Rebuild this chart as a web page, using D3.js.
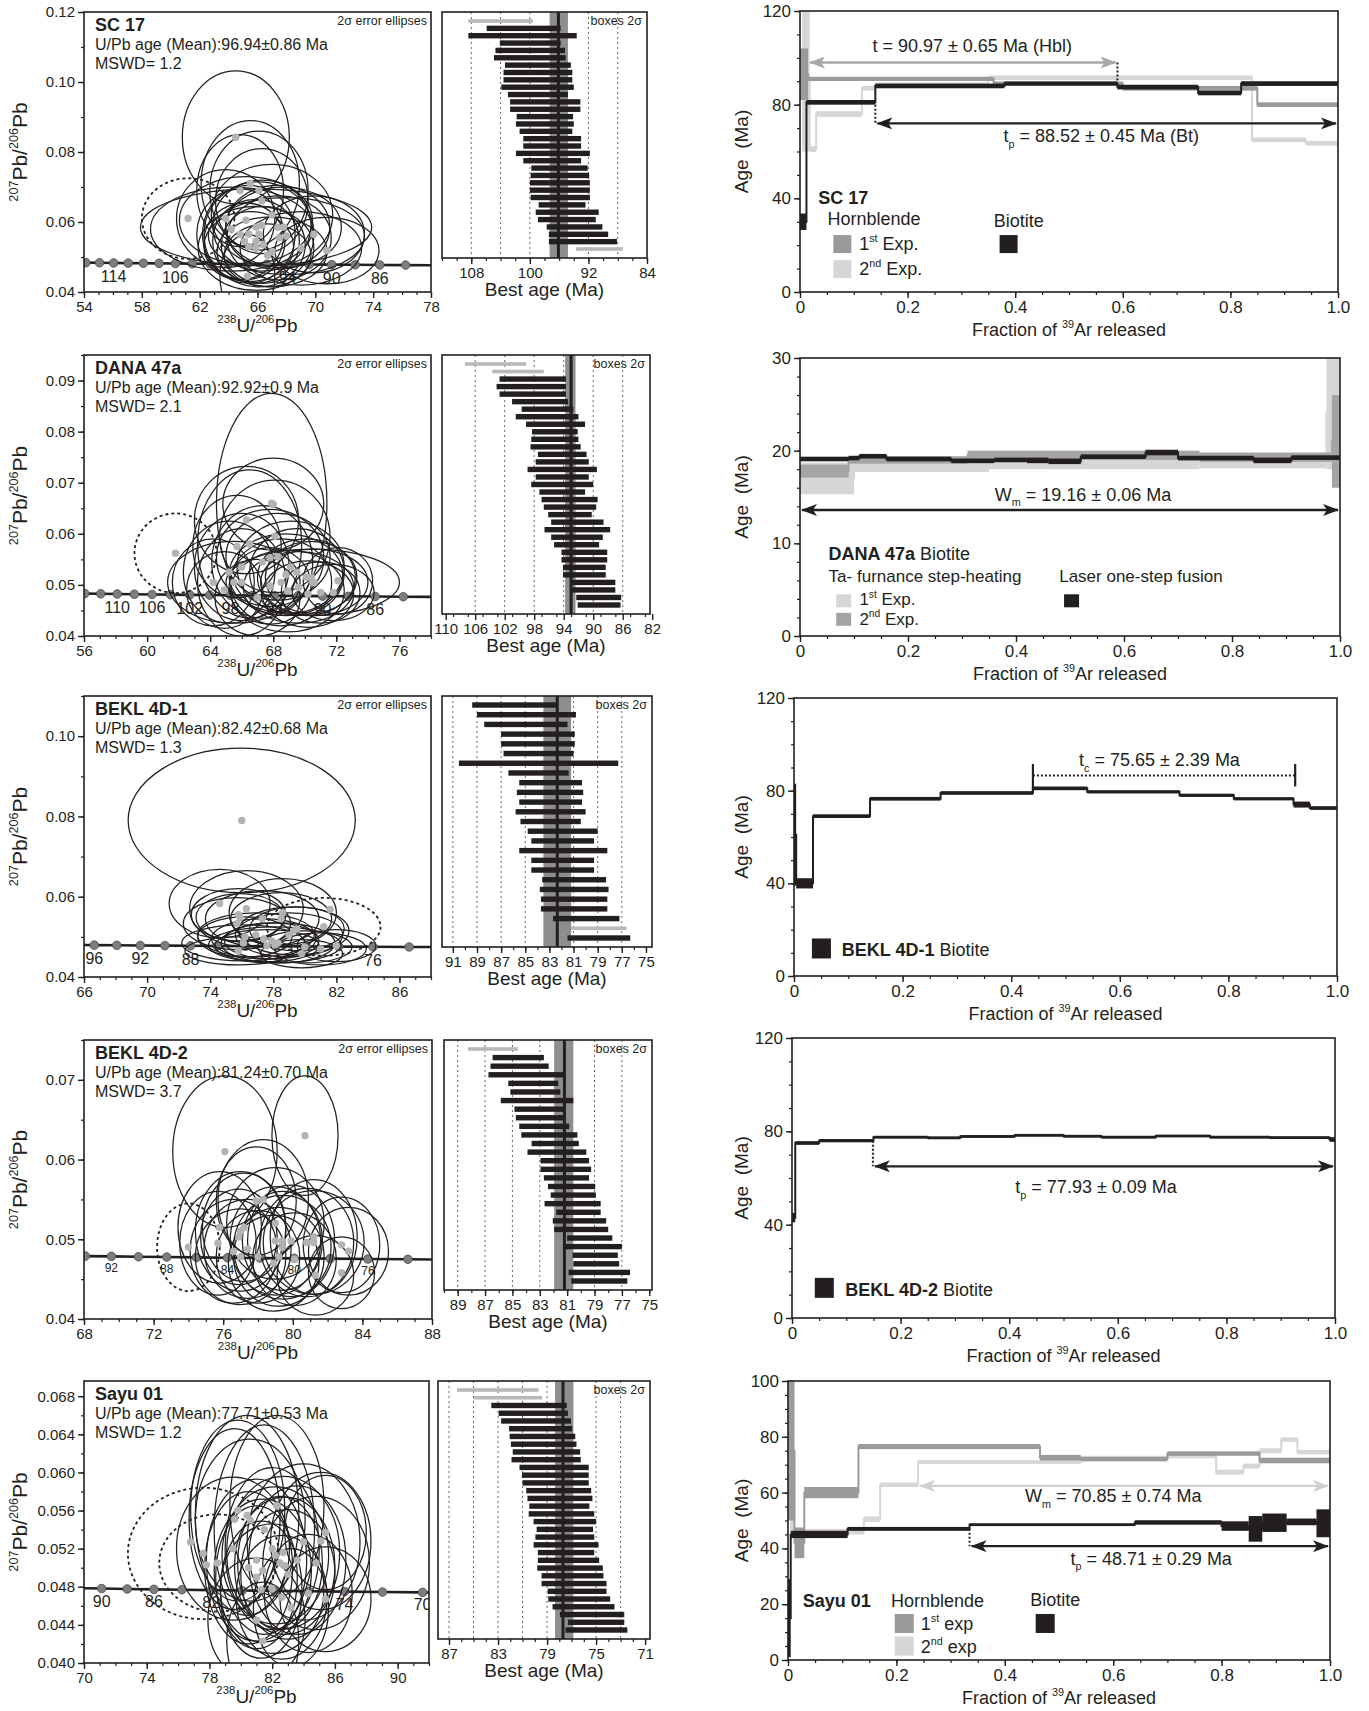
<!DOCTYPE html>
<html>
<head>
<meta charset="utf-8">
<title>U-Pb and Ar-Ar ages</title>
<script src="https://d3js.org/d3.v7.min.js"></script>
<style>
  body { margin: 0; background: #fff; }
  svg text { font-family: "Liberation Sans Narrow", "Liberation Sans", Arial, sans-serif; fill: #231f20; }
  svg text.wide { font-family: "Liberation Sans", Arial, sans-serif; }
</style>
</head>
<body>
<svg id="fig" width="1369" height="1711"></svg>
<script>
// ---------- data: concordia ellipses [cx (238U/206Pb), cy (207Pb/206Pb), rx, ry] ----------
const sc17Ellipses = [
  [64.5,0.0842,3.7,0.019],[65.5,0.0710,3.4,0.018],[64.8,0.0690,3.0,0.016],[66.1,0.0690,3.4,0.017],
  [66.3,0.0660,3.2,0.015],[65.2,0.0605,4.6,0.0125],[66.3,0.0590,3.4,0.013],[65.9,0.0585,8.0,0.011],
  [67.4,0.0585,3.6,0.012],[67.8,0.0585,4.0,0.0115],[69.9,0.0565,3.5,0.011],[64.8,0.0565,3.0,0.013],
  [65.4,0.0565,3.2,0.014],[66.1,0.0565,3.8,0.015],[67.5,0.0555,3.6,0.012],[65.1,0.0545,2.8,0.011],
  [65.9,0.0545,3.0,0.012],[66.4,0.0535,2.9,0.011],[65.4,0.0530,3.1,0.010],[65.9,0.0525,4.0,0.012],
  [67.0,0.0515,3.8,0.010],[69.0,0.0525,4.2,0.0105],[70.8,0.0518,3.6,0.0095],[66.7,0.0505,3.0,0.009],
  [65.3,0.0445,1.9,0.012],[63.8,0.0610,3.4,0.014],[67.0,0.0620,4.2,0.0145],[64.2,0.0580,5.6,0.012],
  [68.0,0.0560,5.4,0.011]
];
const sc17Dashed = [[61.2,0.0610,3.2,0.0115]];
const sc17Markers = [118,116,114,112,110,108,106,104,102,100,98,96,94,92,90,88,86,84];
const sc17MarkerLabels = [114,106,94,90,86];

const danaEllipses = [
  [67.9,0.0660,3.5,0.0215],[66.3,0.0627,3.3,0.0105],[68.0,0.0658,3.2,0.009],[65.7,0.0575,2.8,0.010],
  [68.1,0.0595,3.5,0.011],[64.2,0.0505,2.6,0.0085],[65.2,0.0525,2.9,0.010],[66.0,0.0535,3.0,0.0105],
  [67.3,0.0545,3.2,0.011],[67.8,0.0553,3.4,0.0095],[68.3,0.0555,3.3,0.0085],[69.1,0.0535,3.4,0.009],
  [69.5,0.0525,3.0,0.0085],[68.8,0.0520,3.6,0.008],[70.1,0.0515,3.1,0.0075],[70.6,0.0505,3.4,0.0065],
  [70.4,0.0515,2.9,0.007],[68.5,0.0505,3.2,0.0085],[67.8,0.0498,2.6,0.0075],[69.6,0.0495,3.5,0.007],
  [72.1,0.0508,2.2,0.0065],[71.0,0.0485,2.5,0.006],[70.2,0.0482,2.9,0.0065],[71.8,0.0485,2.6,0.0055],
  [64.9,0.0490,2.4,0.0075],[68.9,0.0488,3.6,0.008],[67.0,0.0475,2.7,0.0075],[66.5,0.0580,3.3,0.0145],
  [70.5,0.0505,5.5,0.0065],[65.5,0.0505,4.2,0.008],[66.0,0.0505,2.8,0.0105]
];
const danaDashed = [[61.8,0.0562,2.6,0.0078]];
const danaMarkers = [114,112,110,108,106,104,102,100,98,96,94,92,90,88,86,84];
const danaMarkerLabels = [110,106,102,98,94,90,86];

const b1Ellipses = [
  [76.0,0.0790,7.2,0.018],[74.6,0.0583,3.2,0.0085],[76.3,0.0570,3.6,0.0095],[78.6,0.0560,3.4,0.0085],
  [75.8,0.0555,3.0,0.0065],[75.9,0.0548,2.8,0.006],[75.7,0.0533,3.4,0.0065],[77.3,0.0545,3.6,0.007],
  [78.5,0.0545,3.2,0.0065],[76.2,0.0500,3.0,0.005],[76.9,0.0505,3.7,0.0055],[77.4,0.0495,3.3,0.005],
  [77.9,0.0490,3.0,0.0045],[78.3,0.0485,3.6,0.005],[79.0,0.0505,3.4,0.0055],[79.5,0.0520,3.0,0.0055],
  [79.3,0.0515,3.5,0.006],[76.1,0.0485,3.9,0.0045],[77.6,0.0478,3.3,0.004],[78.1,0.0480,4.2,0.0045],
  [80.0,0.0475,3.0,0.004],[81.0,0.0470,2.9,0.004],[75.8,0.0465,3.4,0.0035],[79.8,0.0458,2.6,0.0035],
  [82.0,0.0478,2.5,0.004]
];
const b1Dashed = [[81.2,0.0525,3.6,0.0072]];
const b1ExtraDots = [[81.6,0.0568]];
const b1Markers = [96,94,92,90,88,86,84,82,80,78,76,74];
const b1MarkerLabels = [96,92,88,76];

const b2Ellipses = [
  [76.1,0.0610,3.0,0.0095],[80.7,0.0630,1.9,0.0075],[75.8,0.0515,2.4,0.007],[75.7,0.0495,2.2,0.0065],
  [76.6,0.0485,2.5,0.0065],[77.0,0.0510,2.6,0.0075],[77.2,0.0515,2.4,0.0068],[76.9,0.0503,2.2,0.006],
  [77.4,0.0488,2.5,0.0062],[77.9,0.0548,2.3,0.0068],[78.3,0.0550,2.6,0.0075],[79.0,0.0520,2.8,0.007],
  [79.0,0.0498,2.6,0.0068],[79.4,0.0498,2.3,0.0062],[79.4,0.0490,2.8,0.0065],[79.9,0.0498,2.5,0.007],
  [79.2,0.0478,2.6,0.0062],[80.1,0.0475,2.4,0.0058],[80.8,0.0496,2.7,0.0068],[81.2,0.0503,2.5,0.0072],
  [81.2,0.0496,2.9,0.0065],[82.8,0.0493,2.2,0.006],[83.2,0.0485,2.3,0.0055],[82.8,0.0458,1.9,0.0045],
  [81.3,0.0455,2.2,0.005],[78.9,0.0470,2.6,0.006],[78.0,0.0478,2.4,0.0058],[77.0,0.0478,2.6,0.006]
];
const b2Dashed = [[74.0,0.0490,1.8,0.0055]];
const b2Markers = [94,92,90,88,86,84,82,80,78,76,74];
const b2MarkerLabels = [92,88,84,80,76];

const syEllipses = [
  [80.4,0.0555,3.3,0.0105],[82.3,0.0565,3.0,0.0095],[79.8,0.0560,3.0,0.0095],[79.6,0.0551,2.9,0.0095],
  [80.6,0.0550,3.5,0.0085],[81.0,0.0508,3.2,0.0085],[80.5,0.0500,2.8,0.008],[81.4,0.0497,3.1,0.0075],
  [81.0,0.0490,2.6,0.0075],[82.0,0.0520,3.0,0.0085],[82.2,0.0513,3.4,0.0072],[82.7,0.0516,3.6,0.008],
  [82.5,0.0505,2.7,0.007],[82.8,0.0502,3.2,0.0072],[83.6,0.0508,3.1,0.0078],[84.0,0.0527,3.6,0.0082],
  [85.1,0.0528,3.2,0.0072],[85.4,0.0537,2.6,0.006],[83.0,0.0493,3.0,0.0068],[81.3,0.0477,2.6,0.0072],
  [82.0,0.0478,3.3,0.0068],[82.6,0.0469,2.9,0.0065],[83.2,0.0458,2.4,0.0062],[84.3,0.0473,2.8,0.0062],
  [85.4,0.0467,2.9,0.0055],[81.4,0.0423,2.3,0.0062],[79.5,0.0520,3.6,0.0075],[84.8,0.0505,3.4,0.007],
  [81.0,0.0445,3.1,0.0065],[81.5,0.0540,3.2,0.011]
];
const syDashed = [[77.6,0.0515,4.8,0.0069],[78.5,0.0505,3.7,0.0051]];
const syExtraDots = [[76.8,0.0527],[77.8,0.0503]];
const syMarkers = [90,88,86,84,82,80,78,76,74,72,70];
const syMarkerLabels = [90,86,82,74,70];

// ---------- data: best-age boxes [older, younger, excluded(1)] ----------
const sc17Boxes = [
  [108.4,99.6,1],[105.9,95.8,0],[108.4,93.6,0],[104.1,95.8,0],[104.7,95.2,0],[104.9,95.1,0],
  [103.4,94.4,0],[103.6,94.2,0],[103.6,94.2,0],[103.9,94.0,0],[103.0,94.8,0],[102.7,93.1,0],
  [102.7,93.1,0],[101.8,94.1,0],[101.9,94.0,0],[101.4,94.2,0],[100.9,93.0,0],[100.9,93.0,0],
  [101.9,91.8,0],[100.9,93.0,0],[99.8,92.1,0],[99.9,91.9,0],[100.0,91.8,0],[100.0,91.8,0],
  [99.9,91.8,0],[98.8,92.4,0],[99.2,90.6,0],[98.9,91.0,0],[97.7,90.1,0],[97.4,89.3,0],
  [97.4,88.1,0],[93.7,87.3,1]
];
const danaBoxes = [
  [107.4,99.1,1],[103.7,96.7,1],[102.7,93.7,0],[103.1,93.7,0],[102.7,93.7,0],[101.0,93.4,0],
  [99.7,92.7,0],[100.5,92.0,0],[99.1,91.1,0],[98.3,92.1,0],[98.4,92.0,0],[98.5,91.7,0],
  [97.5,90.9,0],[97.8,90.6,0],[98.9,89.5,0],[97.8,90.6,0],[98.4,90.0,0],[97.3,91.1,0],
  [97.0,89.4,0],[96.7,89.6,0],[96.1,90.2,0],[95.7,88.6,0],[96.6,87.7,0],[95.7,88.7,0],
  [95.3,89.2,0],[94.3,88.1,0],[94.3,88.1,0],[94.1,88.3,0],[94.1,88.3,0],[93.1,87.0,0],
  [93.1,87.0,0],[92.3,86.2,0],[92.1,86.3,0]
];
const b1Boxes = [
  [89.4,82.35,0],[89.0,80.8,0],[88.4,81.5,0],[87.0,80.9,0],[87.0,80.9,0],[86.8,81.0,0],
  [90.5,77.3,0],[86.4,81.4,0],[85.5,80.3,0],[85.7,80.2,0],[85.5,80.3,0],[85.8,80.0,0],
  [85.4,80.4,0],[84.8,79.0,0],[84.5,79.3,0],[85.5,78.2,0],[84.5,79.3,0],[84.5,79.3,0],
  [83.6,78.3,0],[83.8,78.1,0],[83.7,78.2,0],[83.7,78.2,0],[82.7,77.2,0],[81.2,76.6,1],
  [81.5,76.3,0]
];
const b2Boxes = [
  [88.25,84.6,1],[86.45,82.7,0],[86.6,82.35,0],[86.75,81.3,0],[85.3,81.65,0],[85.15,81.5,0],
  [85.85,80.55,0],[84.85,81.3,0],[84.75,81.1,0],[84.5,80.85,0],[84.35,80.25,0],[83.6,80.15,0],
  [83.9,79.6,0],[82.95,79.4,0],[82.95,79.25,0],[82.7,79.4,0],[82.4,78.95,0],[82.2,78.9,0],
  [82.65,78.55,0],[81.8,78.55,0],[82.05,78.15,0],[81.95,78.0,0],[81.0,77.7,0],[81.15,77.0,0],
  [80.6,77.3,0],[80.55,77.2,0],[80.9,76.4,0],[80.7,76.6,0]
];
const syBoxes = [
  [86.35,79.7,1],[84.95,79.4,1],[83.55,77.4,0],[82.95,77.3,0],[82.75,77.05,0],[82.1,76.95,0],
  [82.05,76.7,0],[81.95,76.6,0],[81.8,76.3,0],[81.9,76.25,0],[81.25,75.6,0],[81.05,75.6,0],
  [81.0,75.6,0],[80.7,75.4,0],[80.6,75.3,0],[80.45,75.55,0],[80.5,75.15,0],[80.1,75.0,0],
  [79.85,75.25,0],[79.95,75.15,0],[80.1,74.8,0],[79.75,75.15,0],[79.75,74.75,0],[79.8,74.45,0],
  [79.45,74.4,0],[79.45,74.15,0],[78.95,74.15,0],[78.9,73.85,0],[78.55,73.5,0],[77.95,72.7,0],
  [77.3,72.7,0],[77.5,72.45,0]
];
// weighted mean [line, band older, band younger]
const sc17Mean = [96.1, 97.3, 94.8];
const danaMean = [93.0, 93.8, 92.4];
const b1Mean = [82.35, 83.5, 81.2];
const b2Mean = [81.2, 81.95, 80.55];
const syMean = [77.7, 78.35, 76.85];

// ---------- data: Ar-Ar age spectra steps [from, to, age (Ma), half-width (Ma)] ----------
const sc17Bt = [[0,0.012,30,3.5],[0.012,0.14,81,1],[0.14,0.38,88,1],[0.38,0.59,89,0.9],[0.59,0.74,87.5,1],[0.74,0.82,85,1],[0.82,1,89,1]];
const sc17Hbl1 = [[0,0.015,93,11],[0.015,0.36,91,0.9],[0.36,0.6,89,0.9],[0.6,0.85,87,1],[0.85,1,80,1]];
const sc17Hbl2 = [[0.004,0.018,90,30],[0.018,0.03,61,1.2],[0.03,0.115,76,1.2],[0.115,0.14,87,1],[0.14,0.35,88.5,1],[0.35,0.84,91.5,1],[0.84,0.94,65,1],[0.94,1,63.5,1]];

const danaLaser = [[0,0.09,19.1,0.25],[0.09,0.11,19.2,0.25],[0.11,0.16,19.4,0.25],[0.16,0.28,19.1,0.25],[0.28,0.36,18.9,0.25],[0.36,0.42,19.0,0.25],[0.42,0.46,18.95,0.3],[0.46,0.52,18.85,0.3],[0.52,0.64,19.35,0.25],[0.64,0.70,19.8,0.3],[0.70,0.84,19.2,0.25],[0.84,0.91,18.95,0.3],[0.91,1,19.25,0.25]];
const danaExp1 = [[0,0.10,17.0,1.7],[0.10,0.35,18.5,0.8],[0.35,0.74,18.6,0.6],[0.74,0.975,18.8,0.7],[0.975,1,24.0,6.0]];
const danaExp2 = [[0,0.09,17.8,0.7],[0.09,0.31,19.0,0.4],[0.31,0.74,19.5,0.5],[0.74,0.985,19.3,0.5],[0.985,1,21.0,5.0]];

const b1Bt = [[0,0.004,61,22],[0.004,0.035,40,2.2],[0.035,0.14,69,0.8],[0.14,0.27,76.5,0.8],[0.27,0.44,79,0.8],[0.44,0.54,81,0.8],[0.54,0.71,79.5,0.7],[0.71,0.81,78,0.7],[0.81,0.92,76.5,0.7],[0.92,0.95,74,1.3],[0.95,1,72.5,0.8]];

const b2Bt = [[0,0.006,43,2],[0.006,0.05,75,0.8],[0.05,0.15,76,0.7],[0.15,0.25,77.5,0.6],[0.25,0.31,77.2,0.6],[0.31,0.41,77.8,0.6],[0.41,0.5,78.3,0.6],[0.5,0.57,77.9,0.6],[0.57,0.67,77.5,0.6],[0.67,0.77,78.0,0.6],[0.77,0.88,77.5,0.6],[0.88,0.99,77.3,0.6],[0.99,1,76.5,1]];

const syBt = [[0,0.005,15,14],[0.005,0.11,45,1.3],[0.11,0.335,47,0.7],[0.335,0.64,48.5,0.5],[0.64,0.8,49.3,0.8],[0.8,0.85,48,1.7],[0.85,0.875,47,4.6],[0.875,0.92,49.2,3.3],[0.92,0.975,49.5,1.2],[0.975,1,49,5]];
const syHbl1 = [[0,0.012,75,25],[0.012,0.03,42,5.5],[0.03,0.13,60,2],[0.13,0.465,76.5,0.9],[0.465,0.54,72.5,1],[0.54,0.7,72,0.8],[0.7,0.87,74,0.8],[0.87,1,71.5,1]];
const syHbl2 = [[0.004,0.01,73,27],[0.01,0.11,46,1],[0.11,0.14,46,1],[0.14,0.17,50.5,1],[0.17,0.24,62.8,0.8],[0.24,0.54,71,0.7],[0.54,0.7,72.5,0.7],[0.7,0.79,73,0.7],[0.79,0.84,67.3,0.9],[0.84,0.87,69.5,0.9],[0.87,0.91,75,0.9],[0.91,0.94,79,0.8],[0.94,1,74.5,0.8]];

// ---------- tick labels ----------
const sc17XTicks = [54,58,62,66,70,74,78], sc17YTicks = [0.04,0.06,0.08,0.10,0.12];
const danaXTicks = [56,60,64,68,72,76], danaYTicks = [0.04,0.05,0.06,0.07,0.08,0.09];
const b1XTicks = [66,70,74,78,82,86], b1YTicks = [0.04,0.06,0.08,0.10];
const b2XTicks = [68,72,76,80,84,88], b2YTicks = [0.04,0.05,0.06,0.07];
const syXTicks = [70,74,78,82,86,90], syYTicks = [0.040,0.044,0.048,0.052,0.056,0.060,0.064,0.068];
const sc17AgeTicks = [108,100,92,84], sc17AgeGrid = [108,104,100,96,92,88];
const danaAgeTicks = [110,106,102,98,94,90,86,82], danaAgeGrid = [106,102,98,94,90,86];
const b1AgeTicks = [91,89,87,85,83,81,79,77,75], b1AgeGrid = [91,89,87,85,83,81,79,77];
const b2AgeTicks = [89,87,85,83,81,79,77,75], b2AgeGrid = [89,87,85,83,81,79,77];
const syAgeTicks = [87,83,79,75,71], syAgeGrid = [87,85,83,81,79,77,75,73];
const arXTicks = [0,0.2,0.4,0.6,0.8,1.0];
const ar120Ticks = [0,40,80,120], ar30Ticks = [0,10,20,30], ar100Ticks = [0,20,40,60,80,100];

// ---------- drawing ----------
const INK = '#231f20', MID = '#9a9a9a', LIGHT = '#d6d6d6';
const svg = d3.select('#fig');
const defs = svg.append('defs');
let clipN = 0;

const l238 = 1.55125e-10, l235 = 9.8485e-10;
const concX = t => 1 / (Math.exp(l238 * t * 1e6) - 1);
const concY = t => (Math.exp(l235 * t * 1e6) - 1) / (Math.exp(l238 * t * 1e6) - 1) / 137.88;

function marker(id, color) {
  defs.append('marker').attr('id', id).attr('viewBox', '0 0 16 12').attr('refX', 15).attr('refY', 6)
    .attr('markerWidth', 16).attr('markerHeight', 12).attr('markerUnits', 'userSpaceOnUse')
    .attr('orient', 'auto-start-reverse')
    .append('path').attr('d', 'M0,0 L16,6 L0,12 L4,6 Z').attr('fill', color);
}
marker('arrK', INK);
marker('arrG', '#a8a8a8');
marker('arrL', '#d0d0d0');

// text with sub/superscripts: parts = [[string, kind]]
function rich(t, parts, size) {
  let shift = 0;
  parts.forEach(([s, k]) => {
    const target = k === 'sub' ? 0.3 * size : k === 'sup' ? -0.45 * size : 0;
    const ts = t.append('tspan').text(s).attr('dy', target - shift);
    shift = target;
    if (k === 'sub' || k === 'sup') ts.attr('font-size', size * 0.6);
    if (k === 'b') ts.attr('font-weight', 'bold');
  });
  return t;
}

function clip(g, L, T, R, B) {
  const id = 'cp' + (clipN++);
  defs.append('clipPath').attr('id', id).append('rect')
    .attr('x', L).attr('y', T).attr('width', R - L).attr('height', B - T);
  return g.append('g').attr('clip-path', `url(#${id})`);
}

function axis(g, scale, orient, pos, major, minor, fmt, size, cls) {
  const make = orient === 'left' ? d3.axisLeft : d3.axisBottom;
  const tr = orient === 'left' ? `translate(${pos},0)` : `translate(0,${pos})`;
  if (minor) {
    const m = g.append('g').attr('transform', tr).attr('color', INK)
      .call(make(scale).tickValues(minor).tickSize(3).tickFormat(''));
    m.select('.domain').remove();
    m.selectAll('line').attr('stroke-width', 1.2);
  }
  const a = g.append('g').attr('transform', tr).attr('color', INK)
    .call(make(scale).tickValues(major).tickSize(6).tickPadding(3).tickFormat(fmt));
  a.select('.domain').remove();
  a.selectAll('line').attr('stroke-width', 1.4);
  a.selectAll('text').attr('font-size', size).attr('class', cls || null).attr('fill', INK);
}

function minorRange(a, b, step) {
  const out = [];
  for (let v = a; v <= b + step / 1000; v += step) out.push(+v.toFixed(4));
  return out;
}

function concordiaPanel(p) {
  const x = d3.scaleLinear().domain(p.xDom).range([p.L, p.R]);
  const y = d3.scaleLinear().domain(p.yDom).range([p.B, p.T]);
  const g = svg.append('g');
  const inner = clip(g, p.L, p.T, p.R, p.B);
  const ages = [p.markers[0] + 6, ...p.markers, p.markers[p.markers.length - 1] - 6];
  inner.append('path').datum(ages)
    .attr('d', d3.line().x(t => x(concX(t))).y(t => y(concY(t))))
    .attr('fill', 'none').attr('stroke', INK).attr('stroke-width', 2.6);
  inner.selectAll('circle.mk').data(p.markers).join('circle')
    .attr('cx', t => x(concX(t))).attr('cy', t => y(concY(t))).attr('r', 4.3)
    .attr('fill', '#7d7d7d').attr('stroke', '#4a4a4a').attr('stroke-width', 0.8);
  inner.selectAll('text.ml').data(p.labels).join('text')
    .attr('x', t => x(concX(t))).attr('y', t => y(concY(t)) + p.labelDy)
    .attr('text-anchor', 'middle').attr('font-size', p.labelSize).text(d => d);
  inner.selectAll('ellipse.e').data(p.ellipses).join('ellipse')
    .attr('cx', d => x(d[0])).attr('cy', d => y(d[1]))
    .attr('rx', d => x(d[0] + d[2]) - x(d[0])).attr('ry', d => y(d[1]) - y(d[1] + d[3]))
    .attr('fill', 'none').attr('stroke', INK).attr('stroke-width', 1.25);
  inner.selectAll('ellipse.d').data(p.dashed).join('ellipse')
    .attr('cx', d => x(d[0])).attr('cy', d => y(d[1]))
    .attr('rx', d => x(d[0] + d[2]) - x(d[0])).attr('ry', d => y(d[1]) - y(d[1] + d[3]))
    .attr('fill', 'none').attr('stroke', INK).attr('stroke-width', 1.8).attr('stroke-dasharray', '3,3');
  const dots = [...p.ellipses, ...p.dashed, ...(p.extraDots || [])];
  inner.selectAll('circle.dot').data(dots).join('circle')
    .attr('cx', d => x(d[0])).attr('cy', d => y(d[1])).attr('r', 3.7).attr('fill', '#b3b3b3');

  g.append('rect').attr('x', p.L).attr('y', p.T).attr('width', p.R - p.L).attr('height', p.B - p.T)
    .attr('fill', 'none').attr('stroke', INK).attr('stroke-width', 1.6);
  axis(g, x, 'bottom', p.B, p.xTicks, minorRange(p.xDom[0], p.xDom[1], 1), d3.format('d'), 15);
  axis(g, y, 'left', p.L, p.yTicks, minorRange(p.yDom[0], p.yDom[1], p.yMinor), d3.format(p.yFmt), 15);

  g.append('text').attr('x', p.L + 11).attr('y', p.T + 19).attr('font-size', 18).attr('font-weight', 'bold').text(p.name);
  g.append('text').attr('x', p.L + 11).attr('y', p.T + 38).attr('font-size', 16).text(p.age);
  g.append('text').attr('x', p.L + 11).attr('y', p.T + 57).attr('font-size', 16).text(p.mswd);
  if (p.ellNote) g.append('text').attr('x', p.R - 4).attr('y', p.T + 13).attr('text-anchor', 'end')
    .attr('font-size', 12.5).text('2σ error ellipses');
  rich(g.append('text').attr('x', (p.L + p.R) / 2).attr('y', p.B + 40).attr('text-anchor', 'middle').attr('font-size', 19),
    [['238', 'sup'], ['U/', ''], ['206', 'sup'], ['Pb', '']], 19);
  rich(g.append('text').attr('transform', `translate(27,${(p.T + p.B) / 2}) rotate(-90)`).attr('text-anchor', 'middle').attr('font-size', 21),
    [['207', 'sup'], ['Pb/', ''], ['206', 'sup'], ['Pb', '']], 21);
}

function bestAgePanel(p) {
  const x = d3.scaleLinear().domain(p.dom).range([p.L, p.R]);
  const rows = d3.scalePoint().domain(p.boxes.map((d, i) => i)).range([p.T + 9, p.B - 9]);
  const g = svg.append('g');
  g.selectAll('line.grid').data(p.grid).join('line')
    .attr('x1', d => x(d)).attr('x2', d => x(d)).attr('y1', p.T).attr('y2', p.B)
    .attr('stroke', '#555').attr('stroke-width', 0.9).attr('stroke-dasharray', '2,3');
  g.append('rect').attr('x', x(p.mean[1])).attr('width', x(p.mean[2]) - x(p.mean[1]))
    .attr('y', p.T).attr('height', p.B - p.T).attr('fill', '#8e8e8e');
  g.selectAll('rect.box').data(p.boxes).join('rect')
    .attr('x', d => x(d[0])).attr('width', d => x(d[1]) - x(d[0]))
    .attr('y', (d, i) => rows(i) - (d[2] ? 1.8 : 2.7)).attr('height', d => d[2] ? 3.6 : 5.4)
    .attr('fill', d => d[2] ? '#b9b9b9' : INK);
  g.append('line').attr('x1', x(p.mean[0])).attr('x2', x(p.mean[0])).attr('y1', p.T).attr('y2', p.B)
    .attr('stroke', INK).attr('stroke-width', 3);
  g.append('rect').attr('x', p.L).attr('y', p.T).attr('width', p.R - p.L).attr('height', p.B - p.T)
    .attr('fill', 'none').attr('stroke', INK).attr('stroke-width', 1.6);
  axis(g, x, 'bottom', p.B, p.ticks, minorRange(Math.ceil(p.dom[1]), Math.floor(p.dom[0]), p.minor), d3.format('d'), 15);
  g.append('text').attr('x', p.R - 5).attr('y', p.T + 13).attr('text-anchor', 'end').attr('font-size', 12.5).text('boxes 2σ');
  g.append('text').attr('x', (p.L + p.R) / 2).attr('y', p.B + 38).attr('text-anchor', 'middle').attr('font-size', 19).text('Best age (Ma)');
}

function spectrumPanel(p) {
  const x = d3.scaleLinear().domain([0, 1]).range([p.L, p.R]);
  const y = d3.scaleLinear().domain([0, p.yMax]).range([p.B, p.T]);
  const g = svg.append('g');
  const inner = clip(g, p.L, p.T, p.R, p.B);
  p.series.forEach(s => {
    inner.append('g').selectAll('rect').data(s.data).join('rect')
      .attr('x', d => x(d[0])).attr('width', d => Math.max(1.5, x(d[1]) - x(d[0])))
      .attr('y', d => y(d[2] + d[3])).attr('height', d => Math.max(2.2, y(d[2] - d[3]) - y(d[2] + d[3])))
      .attr('fill', s.color);
    const pts = s.data.flatMap(d => [[d[0], d[2]], [d[1], d[2]]]);
    inner.append('path').datum(pts).attr('d', d3.line().x(d => x(d[0])).y(d => y(d[1])))
      .attr('fill', 'none').attr('stroke', s.color).attr('stroke-width', 2);
  });
  p.notes.forEach(n => {
    if (n.type === 'arrow') {
      g.append('line').attr('x1', x(n.x0) + 2).attr('x2', x(n.x1) - 2).attr('y1', y(n.y)).attr('y2', y(n.y))
        .attr('stroke', n.color).attr('stroke-width', 2.4)
        .attr('marker-start', `url(#${n.m})`).attr('marker-end', `url(#${n.m})`);
    } else if (n.type === 'dotV') {
      g.append('line').attr('x1', x(n.x)).attr('x2', x(n.x)).attr('y1', y(n.y0)).attr('y2', y(n.y1))
        .attr('stroke', INK).attr('stroke-width', 2).attr('stroke-dasharray', '2,2');
    } else if (n.type === 'dotH') {
      g.append('line').attr('x1', x(n.x0)).attr('x2', x(n.x1)).attr('y1', y(n.y)).attr('y2', y(n.y))
        .attr('stroke', INK).attr('stroke-width', 2).attr('stroke-dasharray', '2,2');
    } else if (n.type === 'V') {
      g.append('line').attr('x1', x(n.x)).attr('x2', x(n.x)).attr('y1', y(n.y0)).attr('y2', y(n.y1))
        .attr('stroke', INK).attr('stroke-width', 2.2);
    } else if (n.type === 'text') {
      rich(g.append('text').attr('x', x(n.x)).attr('y', y(n.y)).attr('text-anchor', n.anchor || 'start')
        .attr('font-size', n.size || 18), n.parts, n.size || 18);
    } else if (n.type === 'box') {
      g.append('rect').attr('x', x(n.x)).attr('y', y(n.y)).attr('width', n.w).attr('height', n.h).attr('fill', n.fill);
    }
  });
  g.append('rect').attr('x', p.L).attr('y', p.T).attr('width', p.R - p.L).attr('height', p.B - p.T)
    .attr('fill', 'none').attr('stroke', INK).attr('stroke-width', 1.6);
  axis(g, x, 'bottom', p.B, arXTicks, minorRange(0, 1, 0.05), d => d === 0 ? '0' : d3.format('.1f')(d), 17, 'wide');
  axis(g, y, 'left', p.L, p.yTicks, minorRange(0, p.yMax, p.yMinor), d3.format('d'), 17, 'wide');
  rich(g.append('text').attr('x', (p.L + p.R) / 2).attr('y', p.B + 44).attr('text-anchor', 'middle').attr('font-size', 18),
    [['Fraction of ', ''], ['39', 'sup'], ['Ar released', '']], 18);
  g.append('text').attr('transform', `translate(748,${(p.T + p.B) / 2}) rotate(-90)`).attr('text-anchor', 'middle')
    .attr('font-size', 19).attr('class', 'wide').attr('xml:space', 'preserve').text('Age  (Ma)');
}

// ---------- panels ----------
const rowsBox = [
  { T: 12, cB: 292, aB: 258, rT: 11, rB: 292, rL: 800, rR: 1338 },
  { T: 355, cB: 636, aB: 614, rT: 358, rB: 636, rL: 800, rR: 1340 },
  { T: 696, cB: 977, aB: 947, rT: 698, rB: 976, rL: 794, rR: 1337 },
  { T: 1040, cB: 1319, aB: 1290, rT: 1038, rB: 1318, rL: 792, rR: 1335 },
  { T: 1381, cB: 1663, aB: 1639, rT: 1381, rB: 1660, rL: 788, rR: 1330 }
];

concordiaPanel({ L: 84, R: 431, T: rowsBox[0].T, B: rowsBox[0].cB, xDom: [54, 78], yDom: [0.04, 0.12],
  xTicks: sc17XTicks, yTicks: sc17YTicks, yMinor: 0.01, yFmt: '.2f', ellipses: sc17Ellipses, dashed: sc17Dashed,
  markers: sc17Markers, labels: sc17MarkerLabels, labelDy: 19, labelSize: 16, ellNote: true,
  name: 'SC 17', age: 'U/Pb age (Mean):96.94±0.86 Ma', mswd: 'MSWD= 1.2' });
concordiaPanel({ L: 84, R: 431, T: rowsBox[1].T, B: rowsBox[1].cB, xDom: [56, 78], yDom: [0.04, 0.095],
  xTicks: danaXTicks, yTicks: danaYTicks, yMinor: 0.005, yFmt: '.2f', ellipses: danaEllipses, dashed: danaDashed,
  markers: danaMarkers, labels: danaMarkerLabels, labelDy: 19, labelSize: 16, ellNote: true,
  name: 'DANA 47a', age: 'U/Pb age (Mean):92.92±0.9 Ma', mswd: 'MSWD= 2.1' });
concordiaPanel({ L: 84, R: 431, T: rowsBox[2].T, B: rowsBox[2].cB, xDom: [66, 88], yDom: [0.04, 0.11],
  xTicks: b1XTicks, yTicks: b1YTicks, yMinor: 0.01, yFmt: '.2f', ellipses: b1Ellipses, dashed: b1Dashed, extraDots: b1ExtraDots,
  markers: b1Markers, labels: b1MarkerLabels, labelDy: 19, labelSize: 16, ellNote: true,
  name: 'BEKL 4D-1', age: 'U/Pb age (Mean):82.42±0.68 Ma', mswd: 'MSWD= 1.3' });
concordiaPanel({ L: 84, R: 432, T: rowsBox[3].T, B: rowsBox[3].cB, xDom: [68, 88], yDom: [0.04, 0.075],
  xTicks: b2XTicks, yTicks: b2YTicks, yMinor: 0.005, yFmt: '.2f', ellipses: b2Ellipses, dashed: b2Dashed,
  markers: b2Markers, labels: b2MarkerLabels, labelDy: 16, labelSize: 12, ellNote: true,
  name: 'BEKL 4D-2', age: 'U/Pb age (Mean):81.24±0.70 Ma', mswd: 'MSWD= 3.7' });
concordiaPanel({ L: 84, R: 429, T: rowsBox[4].T, B: rowsBox[4].cB, xDom: [70, 92], yDom: [0.040, 0.0696],
  xTicks: syXTicks, yTicks: syYTicks, yMinor: 0.002, yFmt: '.3f', ellipses: syEllipses, dashed: syDashed, extraDots: syExtraDots,
  markers: syMarkers, labels: syMarkerLabels, labelDy: 18, labelSize: 16, ellNote: false,
  name: 'Sayu 01', age: 'U/Pb age (Mean):77.71±0.53 Ma', mswd: 'MSWD= 1.2' });

bestAgePanel({ L: 442, R: 647, T: rowsBox[0].T, B: rowsBox[0].aB, dom: [112, 84], boxes: sc17Boxes, mean: sc17Mean, ticks: sc17AgeTicks, grid: sc17AgeGrid, minor: 2 });
bestAgePanel({ L: 442, R: 650, T: rowsBox[1].T, B: rowsBox[1].aB, dom: [110.5, 82.3], boxes: danaBoxes, mean: danaMean, ticks: danaAgeTicks, grid: danaAgeGrid, minor: 2 });
bestAgePanel({ L: 442, R: 652, T: rowsBox[2].T, B: rowsBox[2].aB, dom: [91.9, 74.5], boxes: b1Boxes, mean: b1Mean, ticks: b1AgeTicks, grid: b1AgeGrid, minor: 1 });
bestAgePanel({ L: 444, R: 652, T: rowsBox[3].T, B: rowsBox[3].aB, dom: [90, 74.8], boxes: b2Boxes, mean: b2Mean, ticks: b2AgeTicks, grid: b2AgeGrid, minor: 1 });
bestAgePanel({ L: 438, R: 650, T: rowsBox[4].T, B: rowsBox[4].aB, dom: [87.9, 70.6], boxes: syBoxes, mean: syMean, ticks: syAgeTicks, grid: syAgeGrid, minor: 1 });

const sub = (a, b, c) => [[a, ''], [b, 'sub'], [c, '']];
const sup = (a, b, c) => [[a, ''], [b, 'sup'], [c, '']];

spectrumPanel({ L: rowsBox[0].rL, R: rowsBox[0].rR, T: rowsBox[0].rT, B: rowsBox[0].rB, yMax: 120, yTicks: ar120Ticks, yMinor: 10,
  series: [{ data: sc17Hbl2, color: LIGHT }, { data: sc17Hbl1, color: MID }, { data: sc17Bt, color: INK }],
  notes: [
    { type: 'arrow', x0: 0.015, x1: 0.59, y: 98, color: '#a8a8a8', m: 'arrG' },
    { type: 'dotV', x: 0.59, y0: 98, y1: 90 },
    { type: 'text', x: 0.32, y: 102.5, anchor: 'middle', parts: [['t = 90.97 ± 0.65 Ma (Hbl)', '']] },
    { type: 'arrow', x0: 0.14, x1: 1.0, y: 72, color: INK, m: 'arrK' },
    { type: 'dotV', x: 0.14, y0: 80, y1: 72 },
    { type: 'text', x: 0.56, y: 64, anchor: 'middle', parts: sub('t', 'p', ' = 88.52 ± 0.45 Ma (Bt)') },
    { type: 'text', x: 0.034, y: 37.5, parts: [['SC 17', 'b']] },
    { type: 'text', x: 0.051, y: 28.5, parts: [['Hornblende', '']] },
    { type: 'box', x: 0.062, y: 24.3, w: 18, h: 18, fill: MID },
    { type: 'text', x: 0.11, y: 18, parts: sup('1', 'st', ' Exp.') },
    { type: 'box', x: 0.062, y: 13.6, w: 18, h: 18, fill: LIGHT },
    { type: 'text', x: 0.11, y: 7.3, parts: sup('2', 'nd', ' Exp.') },
    { type: 'text', x: 0.36, y: 27.8, parts: [['Biotite', '']] },
    { type: 'box', x: 0.371, y: 24.3, w: 18, h: 18, fill: INK }
  ] });

spectrumPanel({ L: rowsBox[1].rL, R: rowsBox[1].rR, T: rowsBox[1].rT, B: rowsBox[1].rB, yMax: 30, yTicks: ar30Ticks, yMinor: 2,
  series: [{ data: danaExp1, color: LIGHT }, { data: danaExp2, color: '#a4a4a4' }, { data: danaLaser, color: INK }],
  notes: [
    { type: 'arrow', x0: 0, x1: 1.0, y: 13.6, color: INK, m: 'arrK' },
    { type: 'text', x: 0.524, y: 14.6, anchor: 'middle', parts: sub('W', 'm', ' = 19.16 ± 0.06 Ma') },
    { type: 'text', x: 0.053, y: 8.2, parts: [['DANA 47a', 'b'], ['  Biotite', '']] },
    { type: 'text', x: 0.053, y: 5.8, size: 17, parts: [['Ta- furnance step-heating', '']] },
    { type: 'text', x: 0.48, y: 5.8, size: 17, parts: [['Laser one-step fusion', '']] },
    { type: 'box', x: 0.067, y: 4.5, w: 15, h: 13, fill: LIGHT },
    { type: 'text', x: 0.11, y: 3.3, size: 17, parts: sup('1', 'st', ' Exp.') },
    { type: 'box', x: 0.067, y: 2.5, w: 15, h: 13, fill: '#a4a4a4' },
    { type: 'text', x: 0.11, y: 1.2, size: 17, parts: sup('2', 'nd', ' Exp.') },
    { type: 'box', x: 0.489, y: 4.5, w: 15, h: 13, fill: INK }
  ] });

spectrumPanel({ L: rowsBox[2].rL, R: rowsBox[2].rR, T: rowsBox[2].rT, B: rowsBox[2].rB, yMax: 120, yTicks: ar120Ticks, yMinor: 10,
  series: [{ data: b1Bt, color: INK }],
  notes: [
    { type: 'V', x: 0.44, y0: 79, y1: 91.5 },
    { type: 'dotH', x0: 0.44, x1: 0.923, y: 86.6 },
    { type: 'V', x: 0.923, y0: 81.8, y1: 91.5 },
    { type: 'text', x: 0.673, y: 90.5, anchor: 'middle', parts: sub('t', 'c', ' = 75.65 ± 2.39 Ma') },
    { type: 'box', x: 0.033, y: 16.2, w: 19, h: 20, fill: INK },
    { type: 'text', x: 0.088, y: 8.6, parts: [['BEKL 4D-1', 'b'], [' Biotite', '']] }
  ] });

spectrumPanel({ L: rowsBox[3].rL, R: rowsBox[3].rR, T: rowsBox[3].rT, B: rowsBox[3].rB, yMax: 120, yTicks: ar120Ticks, yMinor: 10,
  series: [{ data: b2Bt, color: INK }],
  notes: [
    { type: 'dotV', x: 0.149, y0: 76, y1: 65 },
    { type: 'arrow', x0: 0.149, x1: 1.0, y: 65, color: INK, m: 'arrK' },
    { type: 'text', x: 0.56, y: 53.5, anchor: 'middle', parts: sub('t', 'p', ' = 77.93 ± 0.09 Ma') },
    { type: 'box', x: 0.042, y: 17.2, w: 19, h: 20, fill: INK },
    { type: 'text', x: 0.098, y: 9.4, parts: [['BEKL 4D-2', 'b'], [' Biotite', '']] }
  ] });

spectrumPanel({ L: rowsBox[4].rL, R: rowsBox[4].rR, T: rowsBox[4].rT, B: rowsBox[4].rB, yMax: 100, yTicks: ar100Ticks, yMinor: 5,
  series: [{ data: syHbl2, color: LIGHT }, { data: syHbl1, color: MID }, { data: syBt, color: INK }],
  notes: [
    { type: 'arrow', x0: 0.24, x1: 1.0, y: 62.4, color: '#d0d0d0', m: 'arrL' },
    { type: 'text', x: 0.6, y: 56.5, anchor: 'middle', parts: sub('W', 'm', ' = 70.85 ± 0.74 Ma') },
    { type: 'dotV', x: 0.335, y0: 47, y1: 40.8 },
    { type: 'arrow', x0: 0.335, x1: 1.0, y: 40.8, color: INK, m: 'arrK' },
    { type: 'text', x: 0.67, y: 34.2, anchor: 'middle', parts: sub('t', 'p', ' = 48.71 ± 0.29 Ma') },
    { type: 'text', x: 0.027, y: 18.9, parts: [['Sayu 01', 'b']] },
    { type: 'text', x: 0.19, y: 18.9, parts: [['Hornblende', '']] },
    { type: 'text', x: 0.447, y: 19.3, parts: [['Biotite', '']] },
    { type: 'box', x: 0.197, y: 16.5, w: 19, h: 19, fill: MID },
    { type: 'text', x: 0.245, y: 10.8, parts: sup('1', 'st', ' exp') },
    { type: 'box', x: 0.197, y: 8.4, w: 19, h: 19, fill: LIGHT },
    { type: 'text', x: 0.245, y: 2.5, parts: sup('2', 'nd', ' exp') },
    { type: 'box', x: 0.457, y: 16.5, w: 19, h: 19, fill: INK }
  ] });
</script>
</body>
</html>
